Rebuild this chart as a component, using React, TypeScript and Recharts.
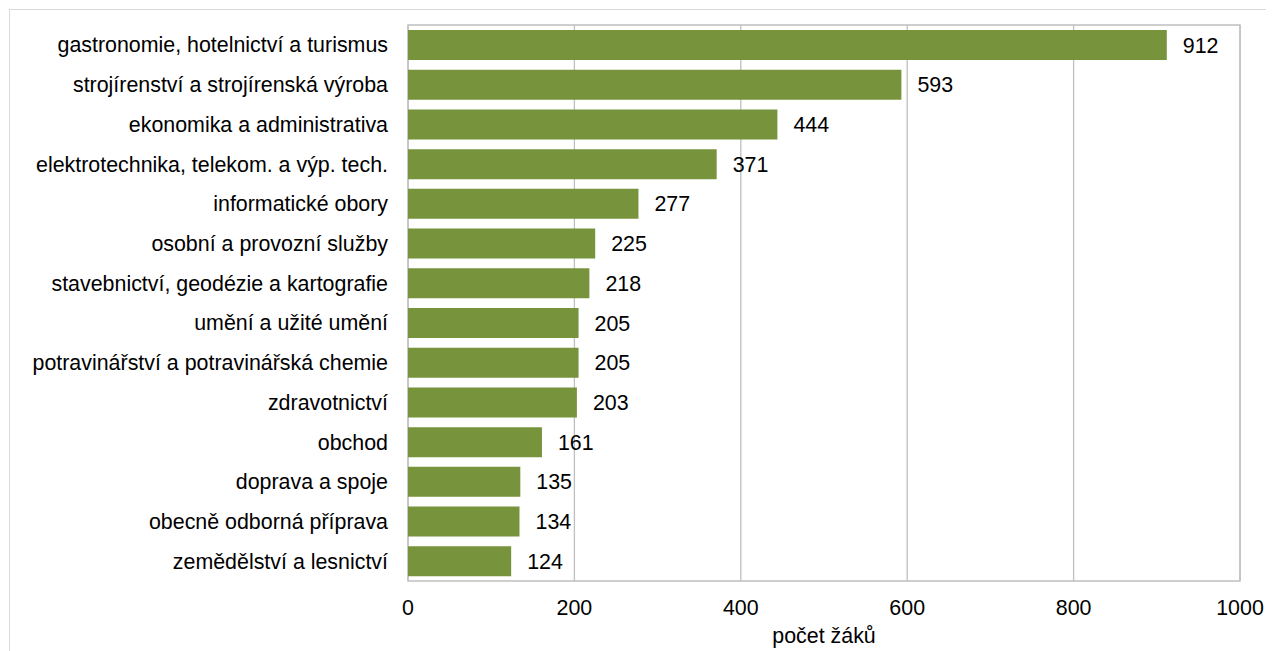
import React from 'react';
import {
  BarChart,
  Bar,
  XAxis,
  YAxis,
  CartesianGrid,
  LabelList,
  ReferenceArea
} from 'recharts';

const categories = [
  'gastronomie, hotelnictví a turismus',
  'strojírenství a strojírenská výroba',
  'ekonomika a administrativa',
  'elektrotechnika, telekom. a výp. tech.',
  'informatické obory',
  'osobní a provozní služby',
  'stavebnictví, geodézie a kartografie',
  'umění a užité umění',
  'potravinářství a potravinářská chemie',
  'zdravotnictví',
  'obchod',
  'doprava a spoje',
  'obecně odborná příprava',
  'zemědělství a lesnictví'
];

const pupils = [912, 593, 444, 371, 277, 225, 218, 205, 205, 203, 161, 135, 134, 124];

const xTicks = [0, 200, 400, 600, 800, 1000];

const data = categories.map((name, i) => ({ name, value: pupils[i] }));

const FONT = '"Liberation Sans", Arial, sans-serif';
const GRID = '#bfbfbf';
const FS = 21.4;

export default function App() {
  return (
    <div
      style={{
        position: 'relative',
        left: 1,
        top: 1,
        width: 1290,
        height: 660,
        border: '1px solid #d9d9d9',
        fontFamily: FONT
      }}
    >
      <BarChart
        width={1264}
        height={650}
        data={data}
        layout="vertical"
        margin={{ top: 15, right: 34, bottom: 0, left: 0 }}
        barSize={30}
      >
        <CartesianGrid horizontal={false} stroke={GRID} strokeWidth={1.3} />
        <ReferenceArea x1={0} x2={1000} fill="none" stroke={GRID} strokeWidth={1.3} ifOverflow="visible" />
        <XAxis
          type="number"
          domain={[0, 1000]}
          ticks={xTicks}
          axisLine={false}
          tickLine={false}
          tickMargin={13}
          height={79}
          tick={{ fill: '#000', fontSize: FS, fontFamily: FONT }}
          label={{
            value: 'počet žáků',
            position: 'insideBottom',
            offset: 17,
            fill: '#000',
            fontSize: FS,
            fontFamily: FONT
          }}
        />
        <YAxis
          type="category"
          dataKey="name"
          width={398}
          axisLine={false}
          tickLine={false}
          tickMargin={14}
          interval={0}
          tick={{ fill: '#000', fontSize: FS, fontFamily: FONT }}
        />
        <Bar dataKey="value" fill="#77933c" isAnimationActive={false}>
          <LabelList
            dataKey="value"
            position="right"
            offset={16}
            fill="#000"
            fontSize={FS}
            fontFamily={FONT}
          />
        </Bar>
      </BarChart>
    </div>
  );
}
